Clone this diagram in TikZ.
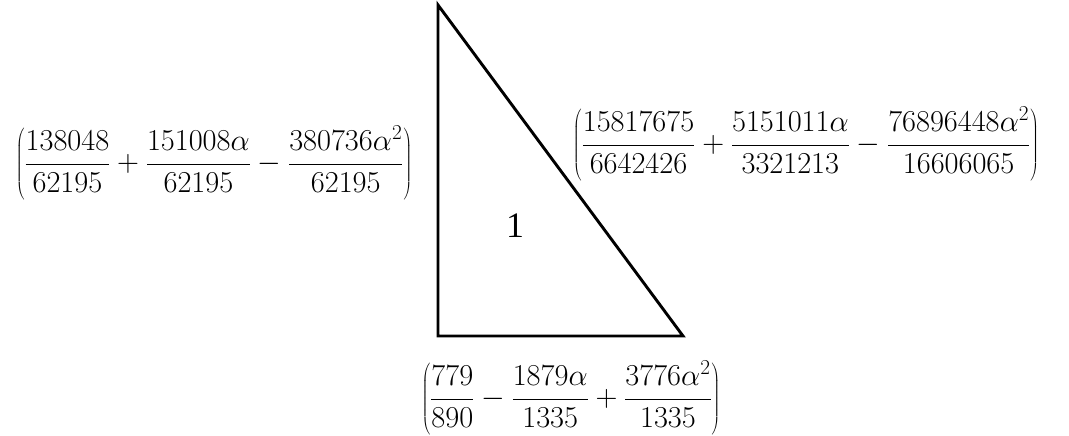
\RequirePackage{fix-cm}
\documentclass[tikz,border=0pt]{standalone}
\usepackage{fontspec}
\newfontfamily\timesfont{Liberation Serif}
\tikzset{
  edge/.style={line width=2.9bp, line join=miter},
  formula/.style={inner sep=0pt, font=\fontsize{30.5}{36}\selectfont},
  facelabel/.style={inner sep=0pt, font=\timesfont\fontsize{36}{40}\selectfont}
}
\begin{document}
\begin{tikzpicture}[x=1bp,y=-1bp]
\useasboundingbox (0,0) rectangle (1069,436);
\coordinate (A) at (438,5);
\coordinate (B) at (438,336);
\coordinate (C) at (683,336);
\draw[edge] (A) -- (B) -- (C) -- cycle;
\node[facelabel] (one) at (515,226) {1};
\node[formula] (left) at (214,163) {$\displaystyle\left(\frac{138048}{62195}+\frac{151008\alpha}{62195}-\frac{380736\alpha^{2}}{62195}\right)$};
\node[formula] (right) at (806,144) {$\displaystyle\left(\frac{15817675}{6642426}+\frac{5151011\alpha}{3321213}-\frac{76896448\alpha^{2}}{16606065}\right)$};
\node[formula] (bottom) at (571,398) {$\displaystyle\left(\frac{779}{890}-\frac{1879\alpha}{1335}+\frac{3776\alpha^{2}}{1335}\right)$};
\end{tikzpicture}
\end{document}
